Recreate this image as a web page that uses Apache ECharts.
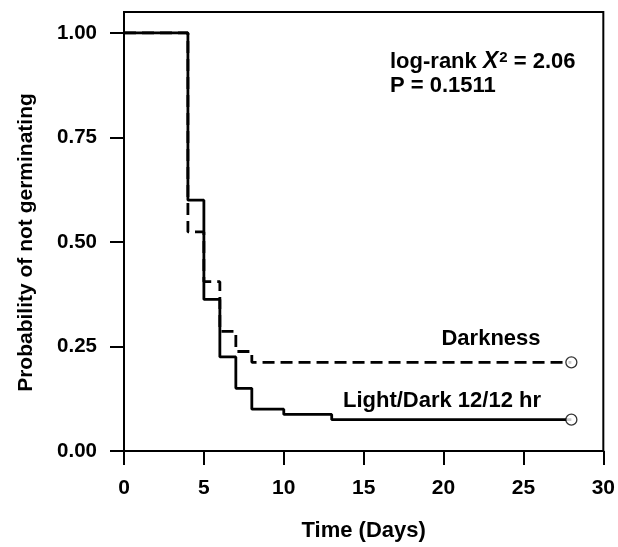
<!DOCTYPE html>
<html>
<head>
<meta charset="utf-8">
<script src="https://cdn.jsdelivr.net/npm/echarts@6/dist/echarts.min.js"></script>
<style>html,body{margin:0;padding:0;background:#fff;}#c{width:618px;height:547px;}</style>
</head>
<body>
<div id="c"></div>
<script>
// Kaplan-Meier step data (time in days, probability of not germinating)
const lightDarkDays = [0, 4, 5, 6, 7, 8, 10, 13, 28];
const lightDarkProb = [1.0, 0.6, 0.3625, 0.225, 0.15, 0.1, 0.0875, 0.075, 0.075];
const darknessDays = [0, 4, 5, 6, 7, 8, 28];
const darknessProb = [1.0, 0.524, 0.405, 0.286, 0.238, 0.212, 0.212];
const xTicks = [0, 5, 10, 15, 20, 25, 30];
const yTicks = [0, 0.25, 0.5, 0.75, 1.0];
const seriesNames = ['Light/Dark 12/12 hr', 'Darkness'];
const statLine1 = ['log-rank ', 'X', '2', ' = 2.06'];
const statLine2 = 'P = 0.1511';

const FONT = 'Arial, "Liberation Sans", sans-serif';
const pairs = (xs, ys) => xs.map((x, i) => [x, ys[i]]);
const lastOf = (xs, ys) => [[xs[xs.length - 1], ys[ys.length - 1]]];

const chart = echarts.init(document.getElementById('c'), null, {renderer: 'canvas'});
chart.setOption({
  animation: false,
  backgroundColor: '#fff',
  grid: {left: 124, right: 14, top: 12, bottom: 94, show: true, borderColor: '#000', borderWidth: 2, backgroundColor: 'transparent'},
  xAxis: {
    type: 'value', min: 0, max: 30, interval: 5,
    name: 'Time (Days)', nameLocation: 'middle', nameGap: 69,
    nameTextStyle: {fontFamily: FONT, fontWeight: 'bold', fontSize: 22, color: '#000'},
    axisLine: {show: true, lineStyle: {color: '#000', width: 2}},
    axisTick: {show: true, inside: false, length: 14, lineStyle: {color: '#000', width: 2}, customValues: xTicks},
    axisLabel: {margin: 27, fontFamily: FONT, fontWeight: 'bold', fontSize: 21, color: '#000', customValues: xTicks},
    splitLine: {show: false}
  },
  yAxis: {
    type: 'value', min: 0, max: 1.05, interval: 0.25,
    name: 'Probability of not germinating', nameLocation: 'middle', nameGap: 87, nameRotate: 90,
    nameTextStyle: {fontFamily: FONT, fontWeight: 'bold', fontSize: 21, color: '#000', padding: [0, 22, 0, 0]},
    axisLine: {show: true, lineStyle: {color: '#000', width: 2}},
    axisTick: {show: true, inside: false, length: 14, lineStyle: {color: '#000', width: 2}, customValues: yTicks},
    axisLabel: {margin: 27, fontFamily: FONT, fontWeight: 'bold', fontSize: 20.5, color: '#000', customValues: yTicks,
      formatter: v => v.toFixed(2)},
    splitLine: {show: false}
  },
  series: [
    {name: seriesNames[1], type: 'line', step: 'end', data: pairs(darknessDays, darknessProb),
      showSymbol: false, lineStyle: {color: '#000', width: 2.8, type: [12, 6]}, z: 2},
    {name: seriesNames[0], type: 'line', step: 'end', data: pairs(lightDarkDays, lightDarkProb),
      showSymbol: false, lineStyle: {color: '#000', width: 2.8, type: 'solid'}, z: 3},
    {type: 'scatter', data: lastOf(darknessDays, darknessProb), symbol: 'circle', symbolSize: 11,
      itemStyle: {color: '#fff', borderColor: '#000', borderWidth: 1.3}, z: 5},
    {type: 'scatter', data: lastOf(lightDarkDays, lightDarkProb), symbol: 'circle', symbolSize: 11,
      itemStyle: {color: '#fff', borderColor: '#000', borderWidth: 1.3}, z: 5}
  ],
  graphic: [
    {type: 'text', left: 390, top: 50, style: {
      text: '{a|' + statLine1[0] + '}{x|' + statLine1[1] + '}{s|' + statLine1[2] + '}{a|' + statLine1[3] + '}\n{a|' + statLine2 + '}',
      font: 'bold 22px ' + FONT, fill: '#000',
      rich: {
        a: {fontFamily: FONT, fontWeight: 'bold', fontSize: 22, lineHeight: 24, fill: '#000'},
        x: {fontFamily: FONT, fontWeight: 'bold', fontStyle: 'italic', fontSize: 23, lineHeight: 24, fill: '#000'},
        s: {fontFamily: FONT, fontWeight: 'bold', fontSize: 15, lineHeight: 24, verticalAlign: 'top', padding: [0, 0, 9, 1], fill: '#000'}
      }
    }},
    {type: 'text', x: 491, y: 339, style: {text: 'Darkness', font: 'bold 22px ' + FONT, fill: '#000', textAlign: 'center', textVerticalAlign: 'middle'}},
    {type: 'text', x: 442, y: 401, style: {text: seriesNames[0], font: 'bold 22px ' + FONT, fill: '#000', textAlign: 'center', textVerticalAlign: 'middle'}}
  ]
});
</script>
</body>
</html>
